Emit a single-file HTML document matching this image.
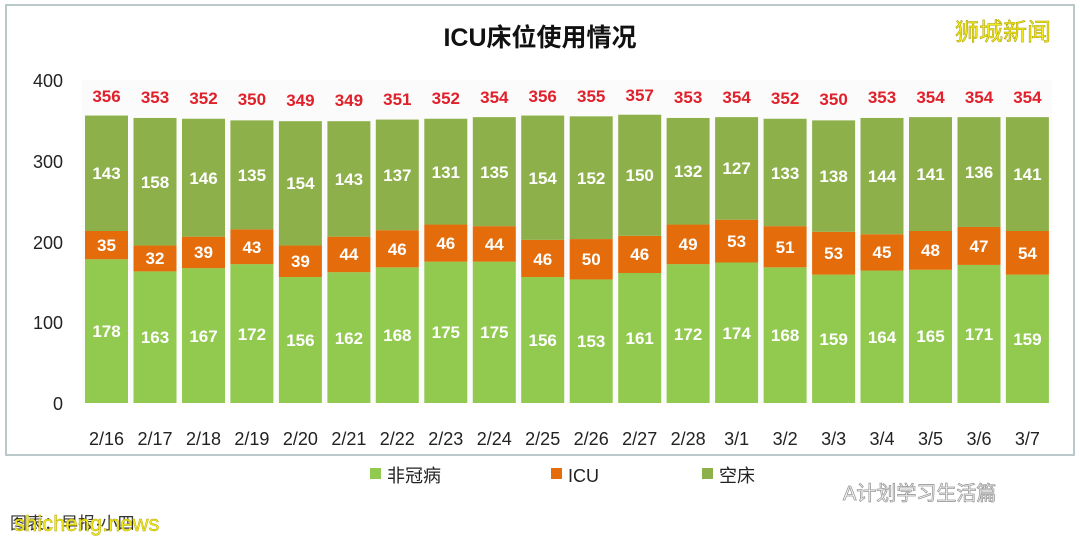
<!DOCTYPE html>
<html><head><meta charset="utf-8"><style>
body{margin:0;background:#fff;}
text{font-family:"Liberation Sans","Noto Sans CJK SC",sans-serif;}
</style></head><body>
<svg width="1080" height="542" viewBox="0 0 1080 542" xmlns="http://www.w3.org/2000/svg">
<rect x="0" y="0" width="1080" height="542" fill="#fff"/>
<rect x="6" y="5" width="1068" height="450" fill="#fff" stroke="#b9c8c8" stroke-width="2"/>
<rect x="82" y="80" width="970" height="323" fill="#fbfbfb"/>
<text x="540" y="46" font-size="25" font-weight="bold" text-anchor="middle" fill="#111">ICU床位使用情况</text>
<text x="1003" y="40" font-size="24" text-anchor="middle" fill="#f2ea1a" stroke="#a89a00" stroke-width="0.5">狮城新闻</text>
<g font-size="18" fill="#222" text-anchor="end">
<text x="63" y="410">0</text><text x="63" y="329">100</text><text x="63" y="249">200</text><text x="63" y="168">300</text><text x="63" y="87">400</text>
</g>
<g transform="translate(0,403) scale(1,-0.8075)">
<g fill="#92c94f">
<rect x="85" y="0" width="43" height="178"/><rect x="133.5" y="0" width="43" height="163"/><rect x="182" y="0" width="43" height="167"/><rect x="230.4" y="0" width="43" height="172"/><rect x="278.9" y="0" width="43" height="156"/><rect x="327.4" y="0" width="43" height="162"/><rect x="375.8" y="0" width="43" height="168"/><rect x="424.3" y="0" width="43" height="175"/><rect x="472.8" y="0" width="43" height="175"/><rect x="521.2" y="0" width="43" height="156"/><rect x="569.7" y="0" width="43" height="153"/><rect x="618.2" y="0" width="43" height="161"/><rect x="666.6" y="0" width="43" height="172"/><rect x="715.1" y="0" width="43" height="174"/><rect x="763.6" y="0" width="43" height="168"/><rect x="812.1" y="0" width="43" height="159"/><rect x="860.5" y="0" width="43" height="164"/><rect x="909" y="0" width="43" height="165"/><rect x="957.5" y="0" width="43" height="171"/><rect x="1005.9" y="0" width="43" height="159"/>
</g>
<g fill="#e46c0a">
<rect x="85" y="178" width="43" height="35"/><rect x="133.5" y="163" width="43" height="32"/><rect x="182" y="167" width="43" height="39"/><rect x="230.4" y="172" width="43" height="43"/><rect x="278.9" y="156" width="43" height="39"/><rect x="327.4" y="162" width="43" height="44"/><rect x="375.8" y="168" width="43" height="46"/><rect x="424.3" y="175" width="43" height="46"/><rect x="472.8" y="175" width="43" height="44"/><rect x="521.2" y="156" width="43" height="46"/><rect x="569.7" y="153" width="43" height="50"/><rect x="618.2" y="161" width="43" height="46"/><rect x="666.6" y="172" width="43" height="49"/><rect x="715.1" y="174" width="43" height="53"/><rect x="763.6" y="168" width="43" height="51"/><rect x="812.1" y="159" width="43" height="53"/><rect x="860.5" y="164" width="43" height="45"/><rect x="909" y="165" width="43" height="48"/><rect x="957.5" y="171" width="43" height="47"/><rect x="1005.9" y="159" width="43" height="54"/>
</g>
<g fill="#8eb04a">
<rect x="85" y="213" width="43" height="143"/><rect x="133.5" y="195" width="43" height="158"/><rect x="182" y="206" width="43" height="146"/><rect x="230.4" y="215" width="43" height="135"/><rect x="278.9" y="195" width="43" height="154"/><rect x="327.4" y="206" width="43" height="143"/><rect x="375.8" y="214" width="43" height="137"/><rect x="424.3" y="221" width="43" height="131"/><rect x="472.8" y="219" width="43" height="135"/><rect x="521.2" y="202" width="43" height="154"/><rect x="569.7" y="203" width="43" height="152"/><rect x="618.2" y="207" width="43" height="150"/><rect x="666.6" y="221" width="43" height="132"/><rect x="715.1" y="227" width="43" height="127"/><rect x="763.6" y="219" width="43" height="133"/><rect x="812.1" y="212" width="43" height="138"/><rect x="860.5" y="209" width="43" height="144"/><rect x="909" y="213" width="43" height="141"/><rect x="957.5" y="218" width="43" height="136"/><rect x="1005.9" y="213" width="43" height="141"/>
</g>
</g>
<g font-size="17" font-weight="bold" fill="#fff" text-anchor="middle">
<text x="106.5" y="337">178</text><text x="106.5" y="251">35</text><text x="106.5" y="179">143</text>
<text x="155" y="343">163</text><text x="155" y="264">32</text><text x="155" y="188">158</text>
<text x="203.5" y="342">167</text><text x="203.5" y="258">39</text><text x="203.5" y="184">146</text>
<text x="251.9" y="340">172</text><text x="251.9" y="253">43</text><text x="251.9" y="181">135</text>
<text x="300.4" y="346">156</text><text x="300.4" y="267">39</text><text x="300.4" y="189">154</text>
<text x="348.9" y="344">162</text><text x="348.9" y="260">44</text><text x="348.9" y="185">143</text>
<text x="397.3" y="341">168</text><text x="397.3" y="255">46</text><text x="397.3" y="181">137</text>
<text x="445.8" y="338">175</text><text x="445.8" y="249">46</text><text x="445.8" y="178">131</text>
<text x="494.3" y="338">175</text><text x="494.3" y="250">44</text><text x="494.3" y="178">135</text>
<text x="542.7" y="346">156</text><text x="542.7" y="265">46</text><text x="542.7" y="184">154</text>
<text x="591.2" y="347">153</text><text x="591.2" y="265">50</text><text x="591.2" y="184">152</text>
<text x="639.7" y="344">161</text><text x="639.7" y="260">46</text><text x="639.7" y="181">150</text>
<text x="688.1" y="340">172</text><text x="688.1" y="250">49</text><text x="688.1" y="177">132</text>
<text x="736.6" y="339">174</text><text x="736.6" y="247">53</text><text x="736.6" y="174">127</text>
<text x="785.1" y="341">168</text><text x="785.1" y="253">51</text><text x="785.1" y="179">133</text>
<text x="833.6" y="345">159</text><text x="833.6" y="259">53</text><text x="833.6" y="182">138</text>
<text x="882" y="343">164</text><text x="882" y="258">45</text><text x="882" y="182">144</text>
<text x="930.5" y="342">165</text><text x="930.5" y="256">48</text><text x="930.5" y="180">141</text>
<text x="979" y="340">171</text><text x="979" y="252">47</text><text x="979" y="178">136</text>
<text x="1027.4" y="345">159</text><text x="1027.4" y="259">54</text><text x="1027.4" y="180">141</text>
</g>
<g font-size="17" font-weight="bold" fill="#e0202a" text-anchor="middle">
<text x="106.5" y="102">356</text><text x="155" y="103">353</text><text x="203.5" y="104">352</text><text x="251.9" y="105">350</text><text x="300.4" y="106">349</text><text x="348.9" y="106">349</text><text x="397.3" y="105">351</text><text x="445.8" y="104">352</text><text x="494.3" y="103">354</text><text x="542.7" y="102">356</text><text x="591.2" y="102">355</text><text x="639.7" y="101">357</text><text x="688.1" y="103">353</text><text x="736.6" y="103">354</text><text x="785.1" y="104">352</text><text x="833.6" y="105">350</text><text x="882" y="103">353</text><text x="930.5" y="103">354</text><text x="979" y="103">354</text><text x="1027.4" y="103">354</text>
</g>
<g font-size="18" fill="#222" text-anchor="middle">
<text x="106.5" y="445">2/16</text><text x="155" y="445">2/17</text><text x="203.5" y="445">2/18</text><text x="251.9" y="445">2/19</text><text x="300.4" y="445">2/20</text><text x="348.9" y="445">2/21</text><text x="397.3" y="445">2/22</text><text x="445.8" y="445">2/23</text><text x="494.3" y="445">2/24</text><text x="542.7" y="445">2/25</text><text x="591.2" y="445">2/26</text><text x="639.7" y="445">2/27</text><text x="688.1" y="445">2/28</text><text x="736.6" y="445">3/1</text><text x="785.1" y="445">3/2</text><text x="833.6" y="445">3/3</text><text x="882" y="445">3/4</text><text x="930.5" y="445">3/5</text><text x="979" y="445">3/6</text><text x="1027.4" y="445">3/7</text>
</g>
<g font-size="18" fill="#222">
<rect x="370" y="468" width="11" height="11" fill="#92c94f"/><text x="387" y="482">非冠病</text>
<rect x="551" y="468" width="11" height="11" fill="#e46c0a"/><text x="568" y="482">ICU</text>
<rect x="702" y="468" width="11" height="11" fill="#8eb04a"/><text x="719" y="482">空床</text>
</g>
<text x="843" y="500" font-size="20" fill="#fff" stroke="#999" stroke-width="0.8">A计划学习生活篇</text>
<text x="10" y="529" font-size="17" fill="#333">图表：早报·小四</text>
<text x="14" y="531" font-size="22" fill="#f2ea1a" stroke="#b0a000" stroke-width="0.4">shicheng.news</text>
</svg>
</body></html>
